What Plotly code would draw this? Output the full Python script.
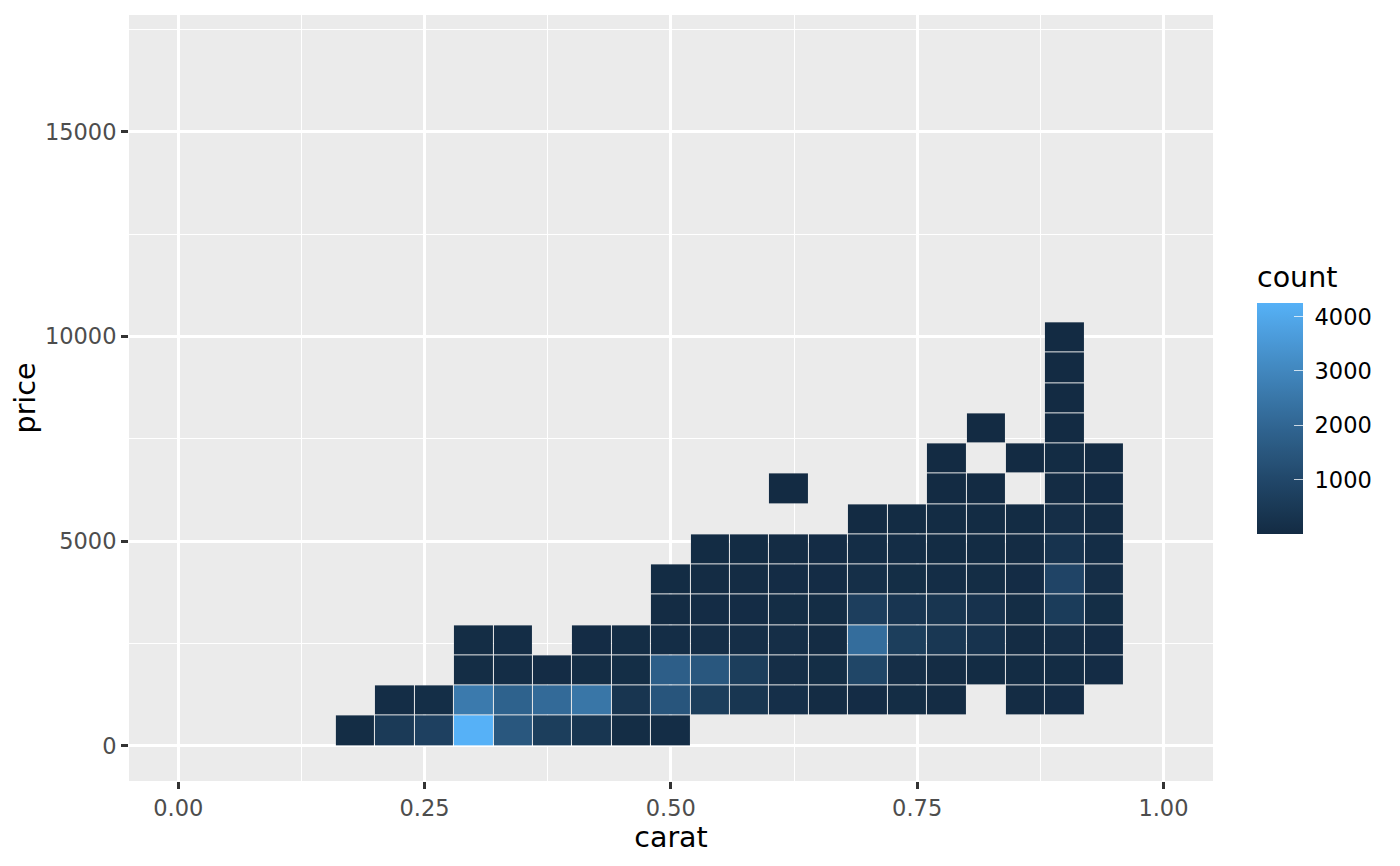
import plotly.graph_objects as go

# ---- data (binned counts of diamonds: carat vs price) ----
carat_bin_start = 0.16
carat_bin_width = 0.04
n_carat_bins = 20
price_bin_start = 0
price_bin_width = 739
n_price_bins = 14

# rows = price bins (bottom -> top), columns = carat bins (left -> right); None = empty
row0 = [60, 545, 760, 4252, 1515, 660, 380, 60, 80, None, None, None, None, None, None, None, None, None, None, None]
row1 = [None, 80, 100, 2616, 1868, 2122, 2492, 350, 1450, 660, 380, 150, 40, 50, 60, 40, None, 40, 50, None]
row2 = [None, None, None, 60, 70, 50, 60, 90, 1742, 1520, 660, 120, 90, 940, 110, 40, 30, 30, 30, 50]
row3 = [None, None, None, 60, 70, None, 50, 60, 80, 120, 120, 120, 40, 2228, 670, 420, 280, 40, 120, 50]
row4 = [None, None, None, None, None, None, None, None, 40, 50, 50, 60, 60, 690, 360, 340, 260, 60, 600, 90]
row5 = [None, None, None, None, None, None, None, None, 30, 40, 40, 50, 50, 130, 90, 80, 60, 50, 900, 120]
row6 = [None, None, None, None, None, None, None, None, None, 20, 30, 40, 50, 80, 70, 30, 30, 40, 300, 70]
row7 = [None, None, None, None, None, None, None, None, None, None, None, None, None, 10, 20, 25, 25, 30, 110, 40]
row8 = [None, None, None, None, None, None, None, None, None, None, None, 2, None, None, None, 10, 12, None, 40, 15]
row9 = [None, None, None, None, None, None, None, None, None, None, None, None, None, None, None, 5, None, 8, 20, 10]
row10 = [None, None, None, None, None, None, None, None, None, None, None, None, None, None, None, None, 3, None, 8, None]
row11 = [None, None, None, None, None, None, None, None, None, None, None, None, None, None, None, None, None, None, 4, None]
row12 = [None, None, None, None, None, None, None, None, None, None, None, None, None, None, None, None, None, None, 3, None]
row13 = [None, None, None, None, None, None, None, None, None, None, None, None, None, None, None, None, None, None, 2, None]
count_rows = [row0, row1, row2, row3, row4, row5, row6, row7, row8, row9, row10, row11, row12, row13]
count_min = 1
count_max = 4252

x_tick_vals = [0.0, 0.25, 0.5, 0.75, 1.0]
x_tick_text = ["0.00", "0.25", "0.50", "0.75", "1.00"]
y_tick_vals = [0, 5000, 10000, 15000]
y_tick_text = ["0", "5000", "10000", "15000"]
cbar_tick_vals = [1000, 2000, 3000, 4000]
cbar_tick_text = ["1000", "2000", "3000", "4000"]

# ---- derived ----
x_edges = [carat_bin_start + carat_bin_width * i for i in range(n_carat_bins + 1)]
y_edges = [price_bin_start + price_bin_width * j for j in range(n_price_bins + 1)]


# ---- colour scale: ggplot default gradient interpolated in CIELAB ----
def _srgb_to_lin(c):
    c = c / 255.0
    return c / 12.92 if c <= 0.04045 else ((c + 0.055) / 1.055) ** 2.4


def _lin_to_srgb(c):
    c = max(0.0, min(1.0, c))
    v = 12.92 * c if c <= 0.0031308 else 1.055 * c ** (1 / 2.4) - 0.055
    return int(round(v * 255))


_WX, _WY, _WZ = 0.95047, 1.0, 1.08883


def _f(t):
    return t ** (1 / 3) if t > 216 / 24389 else (24389 / 27 * t + 16) / 116


def _finv(t):
    return t ** 3 if t ** 3 > 216 / 24389 else (116 * t - 16) / (24389 / 27)


def hex_to_lab(h):
    h = h.lstrip("#")
    r, g, b = (_srgb_to_lin(int(h[i:i + 2], 16)) for i in (0, 2, 4))
    X = 0.4124 * r + 0.3576 * g + 0.1805 * b
    Y = 0.2126 * r + 0.7152 * g + 0.0722 * b
    Z = 0.0193 * r + 0.1192 * g + 0.9505 * b
    fx, fy, fz = _f(X / _WX), _f(Y / _WY), _f(Z / _WZ)
    return (116 * fy - 16, 500 * (fx - fy), 200 * (fy - fz))


def lab_to_hex(L, a, b):
    fy = (L + 16) / 116
    fx = fy + a / 500
    fz = fy - b / 200
    X, Y, Z = _finv(fx) * _WX, _finv(fy) * _WY, _finv(fz) * _WZ
    r = 3.2406 * X - 1.5372 * Y - 0.4986 * Z
    g = -0.9689 * X + 1.8758 * Y + 0.0415 * Z
    bb = 0.0557 * X - 0.2040 * Y + 1.0570 * Z
    return "#%02x%02x%02x" % (_lin_to_srgb(r), _lin_to_srgb(g), _lin_to_srgb(bb))


low_lab = hex_to_lab("#132B43")
high_lab = hex_to_lab("#56B1F7")
n_stops = 21
colorscale = []
for k in range(n_stops):
    t = k / (n_stops - 1)
    lab = [low_lab[i] + (high_lab[i] - low_lab[i]) * t for i in range(3)]
    colorscale.append([t, lab_to_hex(*lab)])

FONT = "DejaVu Sans"

cbar_geom = dict(
    thickness=46,
    thicknessmode="pixels",
    len=231,
    lenmode="pixels",
    x=1.0406,
    xanchor="left",
    y=0.4733,
    yanchor="middle",
    xpad=0,
    ypad=0,
    outlinewidth=0,
    tickmode="array",
    tickvals=cbar_tick_vals,
)

fig = go.Figure()
# main bins with labelled colour bar
fig.add_trace(go.Heatmap(
    x=x_edges,
    y=y_edges,
    z=count_rows,
    zmin=count_min,
    zmax=count_max,
    colorscale=colorscale,
    xgap=1,
    ygap=1,
    hoverongaps=False,
    colorbar=dict(
        **cbar_geom,
        ticks="outside",
        ticklen=7.5,
        tickcolor="rgba(0,0,0,0)",
        ticktext=cbar_tick_text,
        tickfont=dict(family=FONT, size=22.5, color="#000000"),
    ),
))
# invisible copy only to draw white inner tick marks on the colour bar
fig.add_trace(go.Heatmap(
    x=x_edges,
    y=y_edges,
    z=count_rows,
    zmin=count_min,
    zmax=count_max,
    colorscale=colorscale,
    opacity=0,
    hoverinfo="skip",
    colorbar=dict(
        **cbar_geom,
        ticks="inside",
        ticklen=9,
        tickwidth=1.2,
        tickcolor="rgba(255,255,255,0.75)",
        showticklabels=False,
    ),
))

fig.add_annotation(
    text="count", xref="paper", yref="paper",
    x=(1255 - 129) / 1084, y=(781 - 277) / 766,
    xanchor="left", yanchor="middle", showarrow=False,
    font=dict(family=FONT, size=28.5, color="#000000"),
)

axis_common = dict(
    showgrid=True,
    gridcolor="#FFFFFF",
    gridwidth=2.7,
    zeroline=False,
    showline=False,
    ticks="outside",
    ticklen=7,
    tickwidth=2.7,
    tickcolor="#333333",
    tickfont=dict(family=FONT, size=22.5, color="#4D4D4D"),
    tickmode="array",
)

fig.update_xaxes(
    **axis_common,
    range=[-0.05, 1.0503],
    tickvals=x_tick_vals,
    ticktext=x_tick_text,
    minor=dict(showgrid=True, gridcolor="#FFFFFF", gridwidth=1.3, dtick=0.125, tick0=0, ticks=""),
    title=dict(text="carat", font=dict(family=FONT, size=28.5, color="#000000"), standoff=4),
)
fig.update_yaxes(
    **axis_common,
    range=[-855, 17851],
    tickvals=y_tick_vals,
    ticktext=y_tick_text,
    minor=dict(showgrid=True, gridcolor="#FFFFFF", gridwidth=1.3, dtick=2500, tick0=0, ticks=""),
    title=dict(text="price", font=dict(family=FONT, size=28.5, color="#000000"), standoff=0),
)

# page body has an 8px margin, so the figure is 8px smaller and margins shifted
fig.update_layout(
    width=1392,
    height=858,
    margin=dict(l=121, r=187, t=7, b=85, pad=0),
    plot_bgcolor="#EBEBEB",
    paper_bgcolor="#FFFFFF",
    font=dict(family=FONT),
    showlegend=False,
)

fig.write_html("out.html")
